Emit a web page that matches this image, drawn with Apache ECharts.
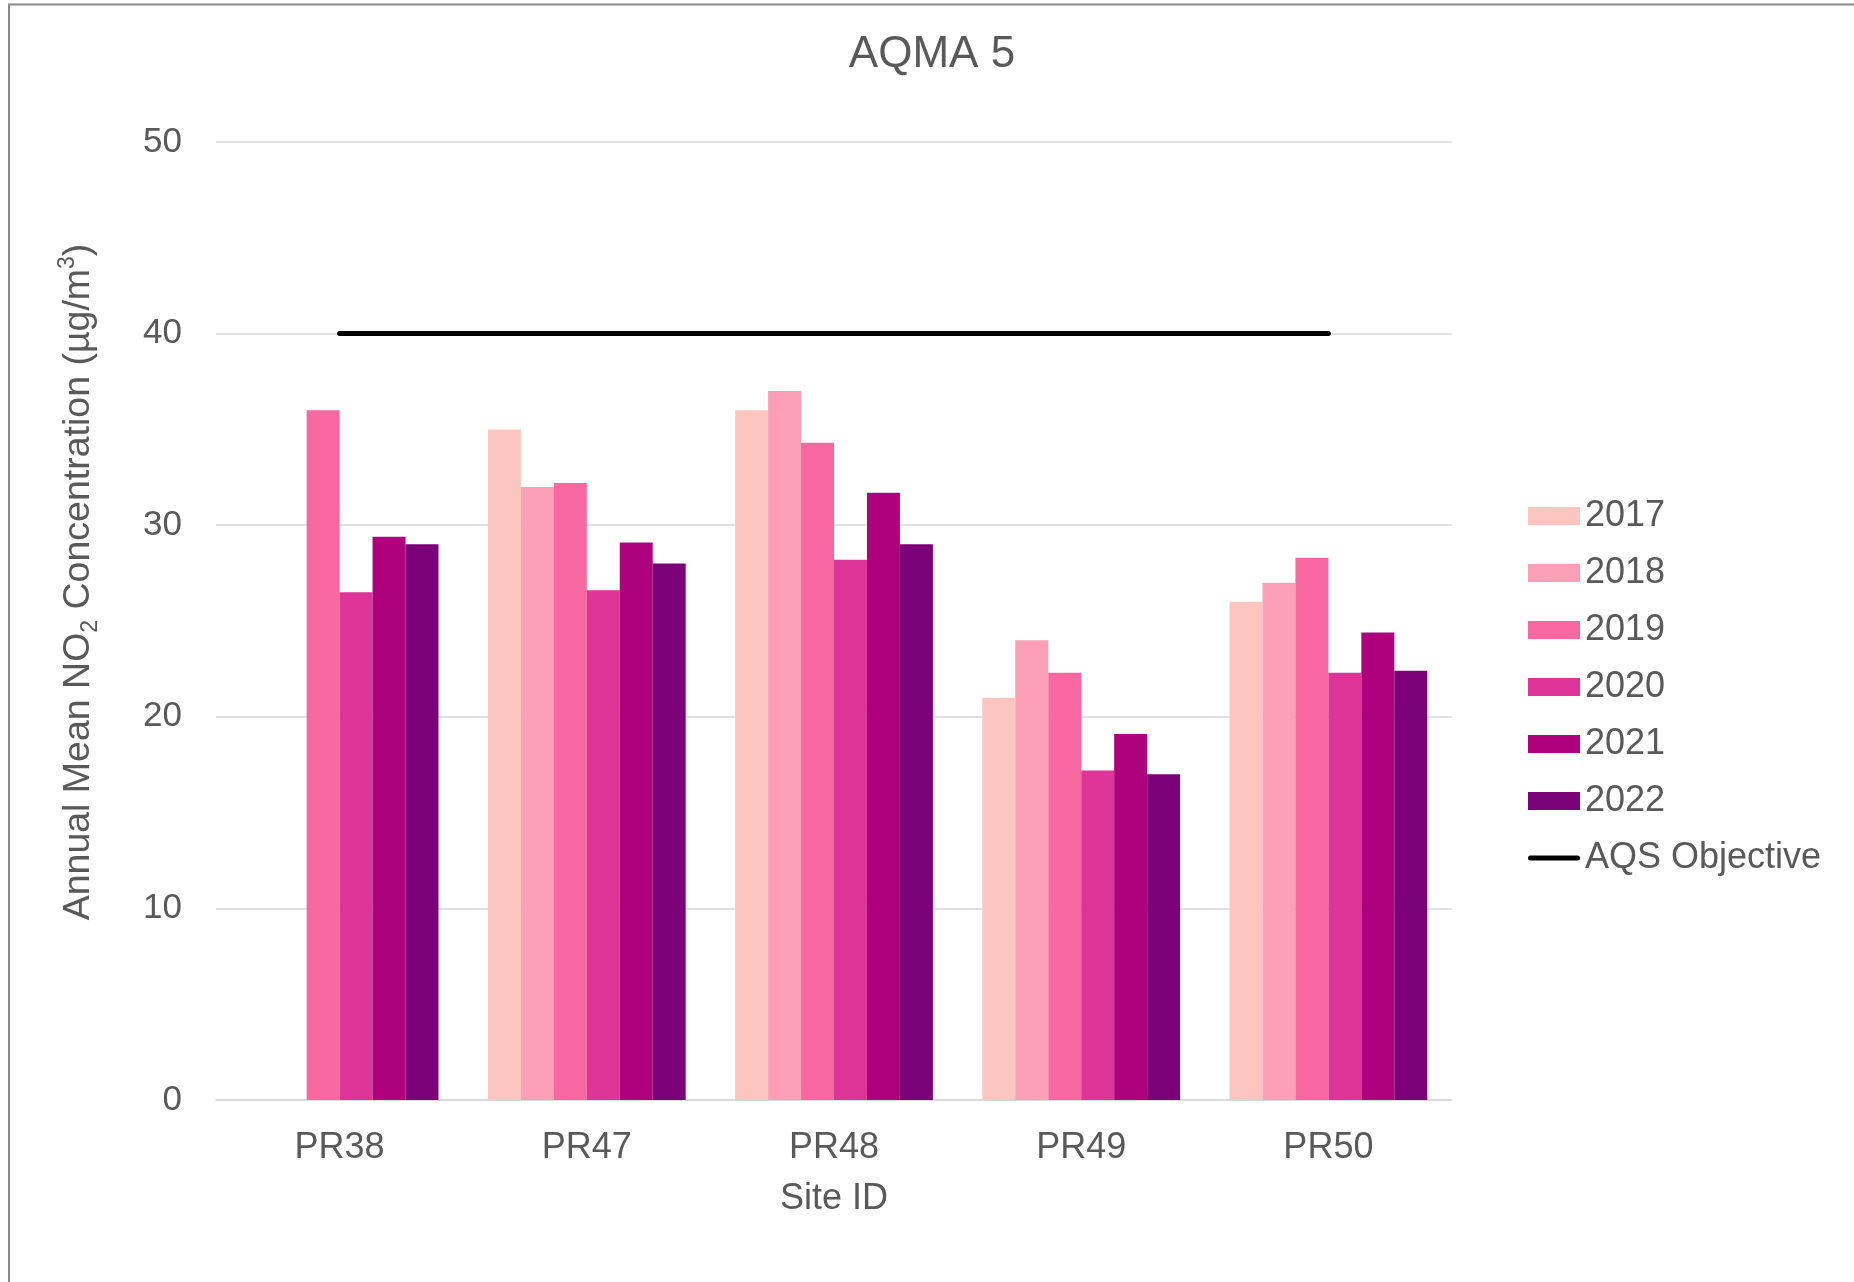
<!DOCTYPE html>
<html>
<head>
<meta charset="utf-8">
<script src="https://cdn.jsdelivr.net/npm/echarts@6.0.0/dist/echarts.min.js"></script>
<style>
  html, body { margin: 0; padding: 0; background: #ffffff; }
  #chart { width: 1854px; height: 1282px; }
</style>
</head>
<body>
<div id="chart"></div>
<script>
// ---- Data ----
const sites = ['PR38', 'PR47', 'PR48', 'PR49', 'PR50'];
const years = ['2017', '2018', '2019', '2020', '2021', '2022'];
const v2017 = [null, 35, 36, 21, 26];
const v2018 = [null, 32, 37, 24, 27];
const v2019 = [36, 32.2, 34.3, 22.3, 28.3];
const v2020 = [26.5, 26.6, 28.2, 17.2, 22.3];
const v2021 = [29.4, 29.1, 31.7, 19.1, 24.4];
const v2022 = [29, 28, 29, 17, 22.4];
const aqsObjective = [40, 40, 40, 40, 40];
const objectiveName = 'AQS Objective';
const yMin = 0, yMax = 50, yStep = 10;

// ---- Styles ----
const FONT = 'Liberation Sans, Arial, Helvetica, sans-serif';
const TEXT = '#595959';
const yearColors = ['#FCC5C0', '#FA9FB5', '#F768A1', '#DD3497', '#AE017E', '#7A0177'];
const yearValues = [v2017, v2018, v2019, v2020, v2021, v2022];

const barSeries = years.map((y, i) => ({
  name: y,
  type: 'bar',
  data: yearValues[i],
  barGap: '0%',
  barCategoryGap: '20%',
  itemStyle: { color: yearColors[i] },
  emphasis: { disabled: true }
}));

const lineIcon = 'path://M2.5,0 L49.5,0 A2.5,2.5 0 0 1 49.5,5 L2.5,5 A2.5,2.5 0 0 1 2.5,0 Z';

const chart = echarts.init(document.getElementById('chart'), null, { renderer: 'canvas' });
chart.setOption({
  animation: false,
  backgroundColor: '#ffffff',
  title: {
    text: 'AQMA 5',
    left: 932,
    top: 33,
    textAlign: 'center',
    padding: 0,
    textStyle: { fontFamily: FONT, fontSize: 44, fontWeight: 'normal', color: TEXT }
  },
  grid: { left: 216, right: 402, top: 142, bottom: 182, containLabel: false },
  legend: {
    orient: 'vertical',
    left: 1528,
    top: 498,
    padding: 0,
    itemWidth: 52,
    itemHeight: 18,
    itemGap: 21,
    selectedMode: false,
    textStyle: { fontFamily: FONT, fontSize: 36, color: TEXT, lineHeight: 36 },
    data: years.map(y => ({ name: y, icon: 'rect' })).concat([{
      name: objectiveName,
      icon: lineIcon,
      itemStyle: { color: '#000000' }
    }])
  },
  xAxis: {
    type: 'category',
    data: sites,
    boundaryGap: true,
    axisLine: { show: true, lineStyle: { color: '#D9D9D9', width: 1.5 } },
    axisTick: { show: false },
    axisLabel: { fontFamily: FONT, fontSize: 36, color: TEXT, margin: 30 },
    name: 'Site ID',
    nameLocation: 'middle',
    nameGap: 81,
    nameTextStyle: { fontFamily: FONT, fontSize: 36, color: TEXT }
  },
  yAxis: {
    type: 'value',
    min: yMin,
    max: yMax,
    interval: yStep,
    axisLine: { show: false },
    axisTick: { show: false },
    axisLabel: { fontFamily: FONT, fontSize: 35, color: TEXT, margin: 34 },
    splitLine: { show: true, lineStyle: { color: '#D9D9D9', width: 1.5 } }
  },
  graphic: [
    {
      type: 'rect',
      silent: true,
      shape: { x: 9, y: 4.5, width: 2000, height: 2000 },
      style: { fill: 'none', stroke: '#8a8a8a', lineWidth: 2 }
    },
    {
      type: 'text',
      silent: true,
      x: 79,
      y: 582,
      rotation: Math.PI / 2,
      style: {
        text: 'Annual Mean NO{sub|2} Concentration (µg/m{sup|3})',
        fontFamily: FONT,
        fontSize: 37.5,
        lineHeight: 46,
        fill: TEXT,
        align: 'center',
        verticalAlign: 'middle',
        rich: {
          sub: { fontFamily: FONT, fontSize: 23, lineHeight: 23, verticalAlign: 'bottom', fill: TEXT },
          sup: { fontFamily: FONT, fontSize: 23, lineHeight: 23, verticalAlign: 'top', fill: TEXT }
        }
      }
    }
  ],
  series: barSeries.concat([{
    name: objectiveName,
    type: 'line',
    data: aqsObjective,
    symbol: 'none',
    showSymbol: false,
    lineStyle: { color: '#000000', width: 5, cap: 'round' },
    itemStyle: { color: '#000000' },
    emphasis: { disabled: true },
    z: 5
  }])
});
</script>
</body>
</html>
